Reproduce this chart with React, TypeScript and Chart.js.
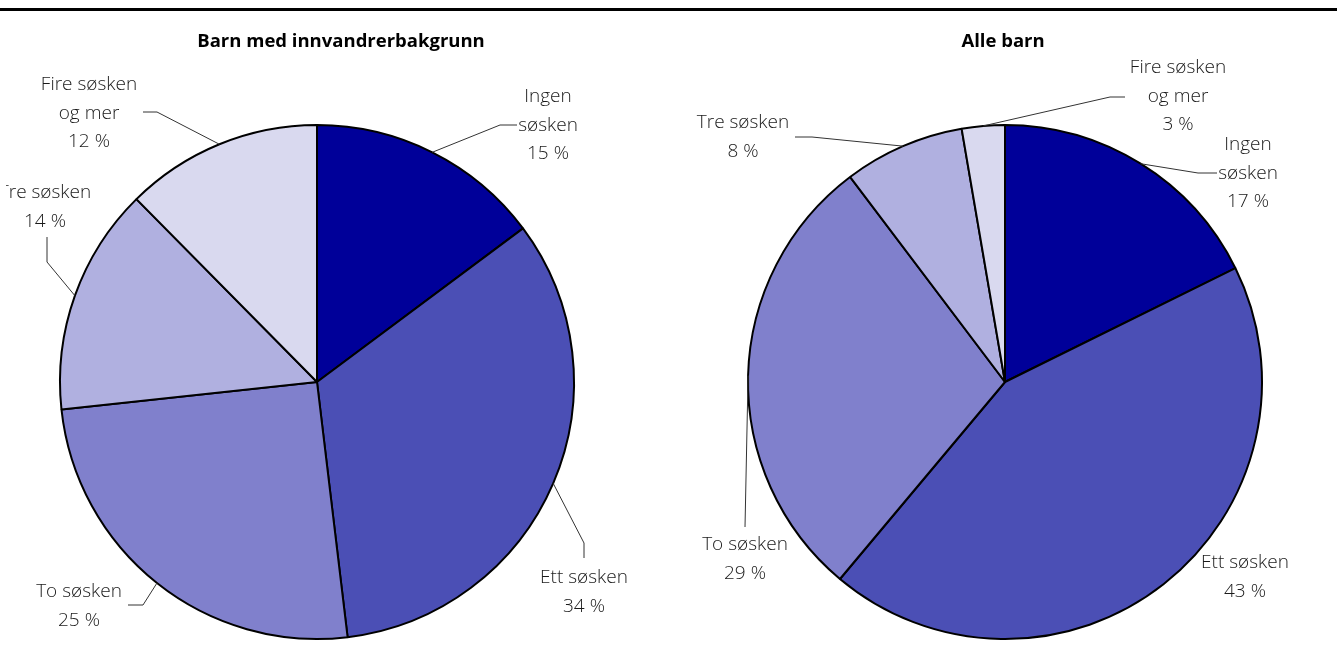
import React, { useEffect, useRef } from "react";
import { Chart, registerables } from "chart.js";

Chart.register(...registerables);

// ---------- data ----------
const categories = ["Ingen søsken", "Ett søsken", "To søsken", "Tre søsken", "Fire søsken og mer"];
const labelLines = [["Ingen", "søsken"], ["Ett søsken"], ["To søsken"], ["Tre søsken"], ["Fire søsken", "og mer"]];

// slice sizes (per cent)
const immigrantValues = [14.8, 33.3, 25.2, 14.3, 12.4];
const allChildrenValues = [17.7, 43.4, 28.6, 7.6, 2.7];

// printed percentage labels
const immigrantPctLabels = ["15 %", "34 %", "25 %", "14 %", "12 %"];
const allChildrenPctLabels = ["17 %", "43 %", "29 %", "8 %", "3 %"];

const titles = ["Barn med innvandrerbakgrunn", "Alle barn"];

// ---------- styles / layout ----------
const sliceColors = ["#000099", "#4B4FB5", "#8080CC", "#B0B0E0", "#D9D9EF"];
const LABEL_FONT = "300 19px 'Open Sans', 'Noto Sans', sans-serif";
const TITLE_FONT = "bold 18.5px 'Open Sans', 'Noto Sans', sans-serif";
const LINE_H = 28.5;

type LabelLayout = { x: number; y: number; leader: [number, number][] };

// page coordinates (first text line centre, leader elbow points)
const leftLayout: LabelLayout[] = [
  { x: 548, y: 97, leader: [[517, 125], [500, 125]] },
  { x: 584, y: 578, leader: [[584, 558], [584, 543]] },
  { x: 79, y: 592, leader: [[128, 605], [143, 605]] },
  { x: 45, y: 193, leader: [[47, 237], [47, 262]] },
  { x: 89, y: 85, leader: [[143, 112], [157, 112]] },
];
const rightLayout: LabelLayout[] = [
  { x: 1248, y: 145, leader: [[1217, 173], [1198, 173]] },
  { x: 1245, y: 563, leader: [] },
  { x: 745, y: 545, leader: [[745, 527]] },
  { x: 743, y: 123, leader: [[795, 137], [812, 137]] },
  { x: 1178, y: 68, leader: [[1125, 97], [1110, 97]] },
];

type PieCfg = {
  values: number[];
  pct: string[];
  title: string;
  titleX: number;
  layout: LabelLayout[];
  offsetX: number;
  width: number;
  clipLeft: number;
  padding: { left: number; right: number; top: number; bottom: number };
};

function makePlugin(cfg: PieCfg) {
  return {
    id: "sliceLabels",
    afterDatasetsDraw(chart: any) {
      const ctx = chart.ctx as CanvasRenderingContext2D;
      const meta = chart.getDatasetMeta(0);
      ctx.save();
      ctx.beginPath();
      ctx.rect(cfg.clipLeft, 0, chart.width - cfg.clipLeft, chart.height);
      ctx.clip();
      ctx.textAlign = "center";
      ctx.textBaseline = "middle";
      ctx.fillStyle = "#000";
      ctx.font = TITLE_FONT;
      ctx.fillText(cfg.title, cfg.titleX - cfg.offsetX, 42);

      ctx.font = LABEL_FONT;
      meta.data.forEach((arc: any, i: number) => {
        const p = arc.getProps(["x", "y", "startAngle", "endAngle", "outerRadius"], true);
        const mid = (p.startAngle + p.endAngle) / 2;
        const ex = p.x + Math.cos(mid) * p.outerRadius;
        const ey = p.y + Math.sin(mid) * p.outerRadius;
        const lay = cfg.layout[i];
        const lines = [...labelLines[i], cfg.pct[i]];
        ctx.fillStyle = "#1a1a1a";
        lines.forEach((t, j) => ctx.fillText(t, lay.x - cfg.offsetX, lay.y + j * LINE_H));
        if (lay.leader.length) {
          ctx.beginPath();
          ctx.strokeStyle = "#333";
          ctx.lineWidth = 1;
          ctx.moveTo(lay.leader[0][0] - cfg.offsetX, lay.leader[0][1]);
          for (let k = 1; k < lay.leader.length; k++) {
            ctx.lineTo(lay.leader[k][0] - cfg.offsetX, lay.leader[k][1]);
          }
          ctx.lineTo(ex, ey);
          ctx.stroke();
        }
      });
      ctx.restore();
    },
  };
}

function PieCanvas({ cfg }: { cfg: PieCfg }) {
  const ref = useRef<HTMLCanvasElement | null>(null);
  useEffect(() => {
    if (!ref.current) return;
    const chart = new Chart(ref.current, {
      type: "pie",
      data: {
        labels: categories,
        datasets: [
          {
            data: cfg.values,
            backgroundColor: sliceColors,
            borderColor: "#000",
            borderWidth: 2,
          },
        ],
      },
      options: {
        responsive: false,
        animation: false,
        devicePixelRatio: 1,
        radius: 257,
        layout: { padding: cfg.padding },
        events: [],
        plugins: {
          legend: { display: false },
          tooltip: { enabled: false },
          title: { display: false },
        },
      } as any,
      plugins: [makePlugin(cfg)],
    });
    return () => chart.destroy();
  }, [cfg]);
  return (
    <canvas
      ref={ref}
      width={cfg.width}
      height={652}
      style={{ position: "absolute", left: cfg.offsetX, top: 0, width: cfg.width, height: 652 }}
    />
  );
}

const leftCfg: PieCfg = {
  values: immigrantValues,
  pct: immigrantPctLabels,
  title: titles[0],
  titleX: 341,
  layout: leftLayout,
  offsetX: 0,
  width: 668,
  clipLeft: 6,
  padding: { left: 59, right: 93, top: 124, bottom: 12 },
};
const rightCfg: PieCfg = {
  values: allChildrenValues,
  pct: allChildrenPctLabels,
  title: titles[1],
  titleX: 1003,
  layout: rightLayout,
  offsetX: 668,
  width: 669,
  clipLeft: 0,
  padding: { left: 79, right: 74, top: 124, bottom: 12 },
};

export default function App() {
  return (
    <div style={{ position: "absolute", left: 0, top: 0, width: 1337, height: 652, background: "#fff", overflow: "hidden" }}>
      <div style={{ position: "absolute", left: 0, top: 8, width: 1337, height: 3, background: "#000" }} />
      <PieCanvas cfg={leftCfg} />
      <PieCanvas cfg={rightCfg} />
    </div>
  );
}
